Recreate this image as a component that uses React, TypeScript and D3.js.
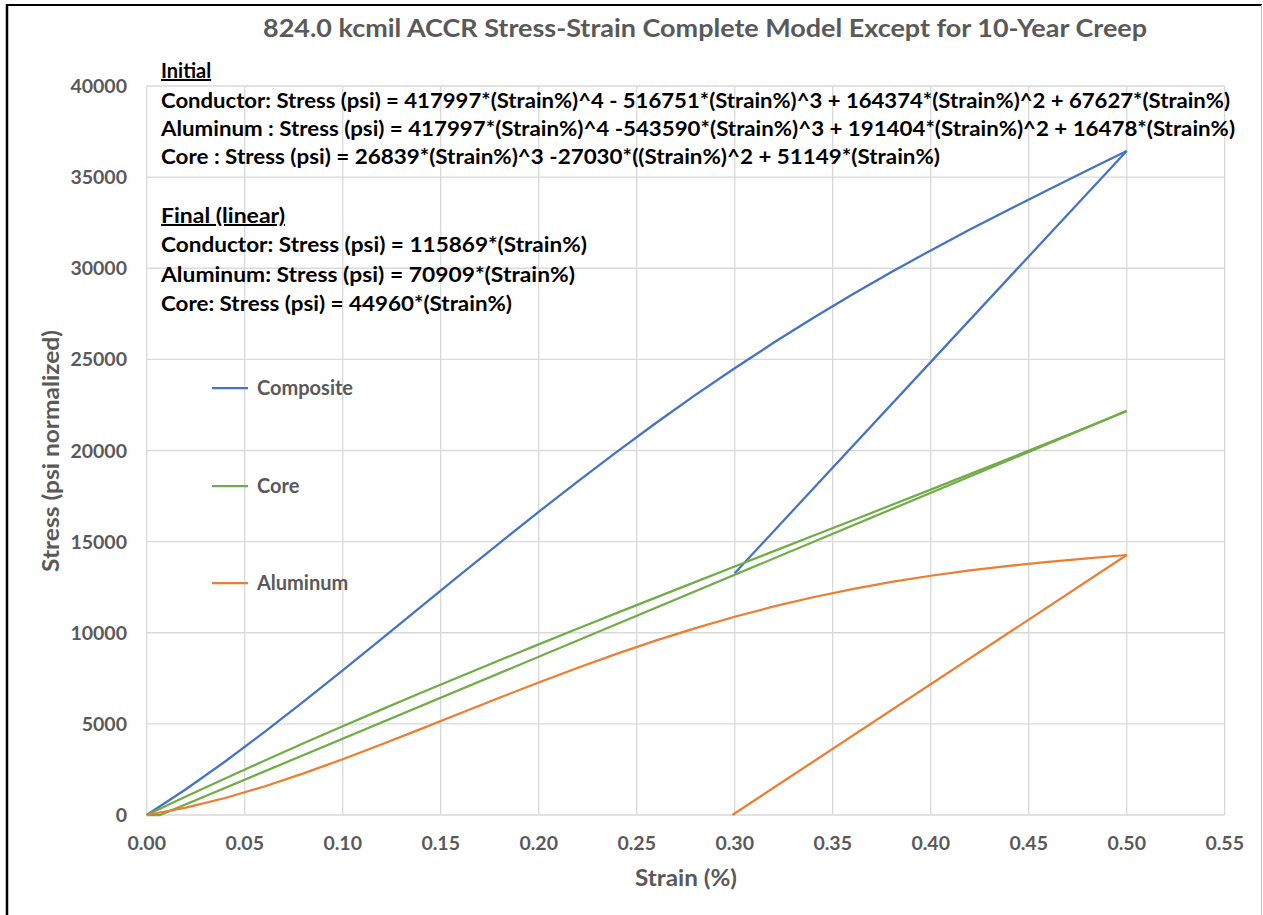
import { useEffect, useRef } from "react";
import * as d3 from "d3";

// Strain (%) sample points for the initial curves
const strainInitial = [0, 0.02, 0.04, 0.06, 0.08, 0.1, 0.12, 0.14, 0.16, 0.18, 0.2, 0.22, 0.24,
    0.26, 0.28, 0.3, 0.32, 0.34, 0.36, 0.38, 0.4, 0.42, 0.44, 0.46, 0.48, 0.5];

// Stress values (psi normalized)
const compositeInitial = [0, 1414, 2936, 4543, 6215, 7931, 9676, 11432, 13185, 14924, 16635, 18310,
    19941, 21522, 23048, 24515, 25923, 27270, 28560, 29794, 30979, 32120, 33226, 34307, 35373, 36439];
const coreInitial = [0, 1012, 2004, 2977, 3933, 4871, 5795, 6705, 7602, 8488, 9363, 10230, 11090,
    11943, 12792, 13637, 14479, 15321, 16163, 17006, 17853, 18703, 19559, 20421, 21292, 22172];
const aluminumInitial = [0, 402, 932, 1566, 2282, 3060, 3881, 4727, 5584, 6436, 7272, 8080, 8852,
    9579, 10257, 10879, 11443, 11949, 12397, 12788, 13127, 13418, 13668, 13886, 14081, 14266];

// Final (linear) unloading lines
const compositeFinalStrain = [0.3, 0.5];
const compositeFinal = [13265, 36439];
const coreFinalStrain = [0, 0.0069, 0.5];
const coreFinal = [0, 0, 22172];
const aluminumFinalStrain = [0.2988, 0.5];
const aluminumFinal = [0, 14266];

const xTicks = [0, 0.05, 0.1, 0.15, 0.2, 0.25, 0.3, 0.35, 0.4, 0.45, 0.5, 0.55];
const yTicks = [0, 5000, 10000, 15000, 20000, 25000, 30000, 35000, 40000];

const title = "824.0 kcmil ACCR Stress-Strain Complete Model Except for 10-Year Creep";
const initialLines = [
    "Conductor: Stress (psi) = 417997*(Strain%)^4 - 516751*(Strain%)^3 + 164374*(Strain%)^2 + 67627*(Strain%)",
    "Aluminum : Stress (psi) =  417997*(Strain%)^4 -543590*(Strain%)^3 + 191404*(Strain%)^2 + 16478*(Strain%)",
    "Core : Stress (psi) = 26839*(Strain%)^3  -27030*((Strain%)^2 + 51149*(Strain%)",
];
const finalLines = [
    "Conductor: Stress (psi) =  115869*(Strain%)",
    "Aluminum: Stress (psi) =  70909*(Strain%)",
    "Core: Stress (psi) = 44960*(Strain%)",
];
// widths the text lines take up in the original
const initialWidths = [1069, 1074, 779];
const finalWidths = [426, 414, 351];

const legendNames = ["Composite", "Core", "Aluminum"];
const colors = ["#4472C4", "#70AD47", "#ED7D31"];

const W = 1263;
const H = 915;
const FONT = "Lato, 'Open Sans', sans-serif";

export default function App(): JSX.Element {
    const svgRef = useRef<SVGSVGElement>(null);

    useEffect(() => {
        document.body.style.margin = "0";
        const svg = d3.select(svgRef.current);
        svg.selectAll("*").remove();

        svg.append("rect").attr("width", W).attr("height", H).attr("fill", "#fff");

        // outer frame
        svg.append("line").attr("x1", 7).attr("x2", 7).attr("y1", 4).attr("y2", H)
            .attr("stroke", "#000").attr("stroke-width", 2.5);
        svg.append("line").attr("x1", 6).attr("x2", 1262).attr("y1", 5).attr("y2", 5)
            .attr("stroke", "#000").attr("stroke-width", 2);
        svg.append("line").attr("x1", 1261.5).attr("x2", 1261.5).attr("y1", 5).attr("y2", H)
            .attr("stroke", "#bfbfbf").attr("stroke-width", 1);

        const x = d3.scaleLinear().domain([0, 0.55]).range([146.7, 1224.7]);
        const y = d3.scaleLinear().domain([0, 40000]).range([815, 86]);

        // gridlines
        svg.append("g").selectAll("line").data(xTicks.slice(1)).enter().append("line")
            .attr("x1", d => x(d)).attr("x2", d => x(d))
            .attr("y1", y(0)).attr("y2", y(40000))
            .attr("stroke", "#d9d9d9").attr("stroke-width", 1.3);
        svg.append("g").selectAll("line").data(yTicks).enter().append("line")
            .attr("x1", x(0)).attr("x2", x(0.55))
            .attr("y1", d => y(d)).attr("y2", d => y(d))
            .attr("stroke", "#d9d9d9").attr("stroke-width", 1.3);
        svg.append("line").attr("x1", x(0)).attr("x2", x(0))
            .attr("y1", y(0)).attr("y2", y(40000))
            .attr("stroke", "#d9d9d9").attr("stroke-width", 1.3);

        // tick labels
        svg.append("g").selectAll("text").data(xTicks).enter().append("text")
            .attr("x", d => x(d)).attr("y", 850)
            .attr("text-anchor", "middle")
            .attr("font-family", FONT).attr("font-size", 19.5).attr("font-weight", 700)
            .attr("fill", "#595959")
            .text(d => d.toFixed(2));
        svg.append("g").selectAll("text").data(yTicks).enter().append("text")
            .attr("x", 127).attr("y", d => y(d) + 7)
            .attr("text-anchor", "end")
            .attr("font-family", FONT).attr("font-size", 19.5).attr("font-weight", 700)
            .attr("fill", "#595959")
            .text(d => String(d));

        // axis titles
        svg.append("text").attr("x", 635).attr("y", 886)
            .attr("textLength", 102).attr("lengthAdjust", "spacingAndGlyphs")
            .attr("font-family", FONT).attr("font-size", 22).attr("font-weight", 700)
            .attr("fill", "#595959").text("Strain (%)");
        svg.append("text").attr("transform", "translate(59,572) rotate(-90)")
            .attr("textLength", 242).attr("lengthAdjust", "spacingAndGlyphs")
            .attr("font-family", FONT).attr("font-size", 22).attr("font-weight", 700)
            .attr("fill", "#595959").text("Stress (psi normalized)");

        // title
        svg.append("text").attr("x", 263).attr("y", 37)
            .attr("textLength", 884).attr("lengthAdjust", "spacingAndGlyphs")
            .attr("font-family", FONT).attr("font-size", 24).attr("font-weight", 700)
            .attr("fill", "#595959").text(title);

        // series
        const line = d3.line<[number, number]>()
            .x(d => x(d[0]))
            .y(d => y(d[1]));

        const series: [number[], number[], string][] = [
            [strainInitial, compositeInitial, colors[0]],
            [compositeFinalStrain, compositeFinal, colors[0]],
            [strainInitial, coreInitial, colors[1]],
            [coreFinalStrain, coreFinal, colors[1]],
            [strainInitial, aluminumInitial, colors[2]],
            [aluminumFinalStrain, aluminumFinal, colors[2]],
        ];
        series.forEach(([xs, ys, c]) => {
            const pts = xs.map((v, i) => [v, ys[i]] as [number, number]);
            svg.append("path")
                .attr("d", line(pts))
                .attr("fill", "none")
                .attr("stroke", c)
                .attr("stroke-width", 2.25)
                .attr("stroke-linejoin", "round");
        });

        // equation annotations
        const ann = svg.append("g")
            .attr("font-family", FONT).attr("font-size", 20).attr("font-weight", 700)
            .attr("fill", "#000");
        ann.append("text").attr("x", 161).attr("y", 78)
            .attr("text-decoration", "underline").text("Initial");
        initialLines.forEach((t, i) => {
            ann.append("text").attr("x", 161).attr("y", 108 + i * 28)
                .attr("textLength", initialWidths[i]).attr("lengthAdjust", "spacingAndGlyphs")
                .text(t);
        });
        ann.append("text").attr("x", 161).attr("y", 223)
            .attr("textLength", 124).attr("lengthAdjust", "spacingAndGlyphs")
            .attr("text-decoration", "underline").text("Final (linear)");
        finalLines.forEach((t, i) => {
            ann.append("text").attr("x", 161).attr("y", 252 + i * 29.5)
                .attr("textLength", finalWidths[i]).attr("lengthAdjust", "spacingAndGlyphs")
                .text(t);
        });

        // legend
        const legendY = [388, 486, 583];
        legendNames.forEach((n, i) => {
            svg.append("line")
                .attr("x1", 212).attr("x2", 248)
                .attr("y1", legendY[i]).attr("y2", legendY[i])
                .attr("stroke", colors[i]).attr("stroke-width", 2.25);
            svg.append("text")
                .attr("x", 257).attr("y", legendY[i] + 7)
                .attr("font-family", FONT).attr("font-size", 20).attr("font-weight", 700)
                .attr("fill", "#595959").text(n);
        });
    }, []);

    return <svg ref={svgRef} width={W} height={H} style={{ display: "block" }} />;
}
